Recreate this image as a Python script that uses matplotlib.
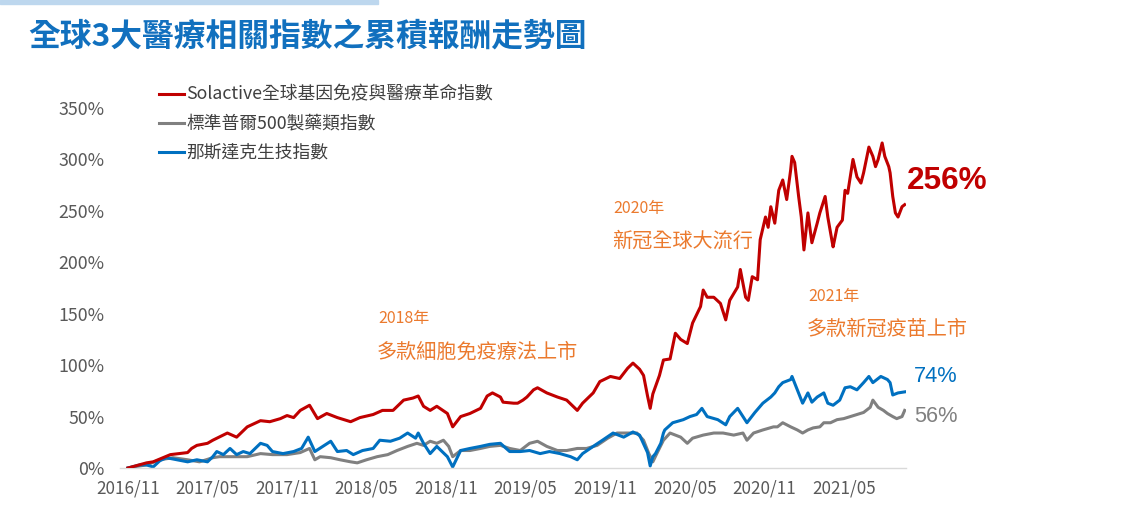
"""Cumulative return chart of three healthcare indices (2016/11 - 2021/09)."""

import matplotlib.pyplot as plt
from matplotlib.patches import Rectangle

plt.rcParams['font.family'] = ['Noto Sans CJK TC', 'DejaVu Sans']

# x values are months since 2016/11, y values are cumulative return in %
red_x = [0, 1.4, 1.9, 3.2, 4.5, 4.8, 5.2, 6.0, 6.4, 7.5, 8.2, 9.0, 10.0, 10.7, 11.5,
         12.0, 12.5, 13.0, 13.7, 14.3, 15.0, 15.8, 16.8, 17.5, 18.5, 19.2, 20.0, 20.8,
         21.5, 21.9, 22.3, 22.8, 23.3, 24.1, 24.5, 25.1, 25.8, 26.6, 27.1, 27.5, 28.1,
         28.3, 29.1, 29.4, 29.8, 30.1, 30.6, 30.9, 31.6, 32.4, 33.1, 33.9, 34.3, 35.1,
         35.6, 36.4, 37.1, 37.7, 38.1, 38.6, 38.9, 39.2, 39.4, 39.6, 40.1, 40.4, 40.9,
         41.3, 41.7, 42.2, 42.6, 43.2, 43.4, 43.7, 44.2, 44.7, 45.1, 45.4, 46.0, 46.2,
         46.6, 46.8, 47.1, 47.5, 47.7, 48.1, 48.3, 48.5, 48.8, 49.1, 49.4, 49.7, 50.0,
         50.1, 50.3, 50.6, 50.8, 51.0, 51.3, 51.6, 52.0, 52.2, 52.6, 52.8, 53.1, 53.2,
         53.5, 53.9, 54.1, 54.3, 54.7, 55.0, 55.3, 55.5, 55.9, 56.2, 56.4, 56.6, 56.9,
         57.1, 57.4, 57.5, 57.7, 57.9, 58.1, 58.4, 58.6]
red_y = [0, 5, 6, 13, 15, 19, 22, 24, 27, 34, 30, 40, 46, 45, 48,
         51, 49, 56, 61, 48, 53, 49, 45, 49, 52, 56, 56, 66,
         68, 70, 60, 56, 60, 53, 40, 50, 53, 58, 70, 73, 69,
         64, 63, 63, 66, 69, 76, 78, 73, 69, 66, 56, 63, 73,
         84, 89, 87, 97, 102, 96, 90, 70, 58, 72, 90, 105, 106,
         131, 125, 121, 141, 157, 173, 166, 166, 160, 144, 163, 176, 193,
         166, 163, 186, 183, 222, 244, 234, 254, 238, 270, 280, 261, 290,
         303, 297, 264, 244, 212, 248, 219, 238, 248, 264, 244, 222, 215,
         234, 241, 270, 267, 300, 283, 277, 287, 312, 303, 293, 300, 316,
         303, 293, 287, 264, 248, 244, 254, 256]

gray_x = [0, 0.4, 1.4, 2.4, 3.4, 4.5, 5.4, 6.4, 6.9, 7.9, 9.0, 10.0, 10.9, 12.0,
          13.0, 13.7, 14.1, 14.5, 15.3, 16.0, 16.8, 17.3, 18.0, 18.8, 19.6, 20.3,
          21.1, 21.8, 22.3, 22.8, 23.3, 23.8, 24.2, 24.5, 25.1, 25.8, 26.6, 27.3,
          28.1, 28.8, 29.6, 30.3, 30.9, 31.6, 32.4, 33.1, 33.9, 34.6, 35.4, 36.2,
          36.9, 37.7, 38.4, 38.9, 39.3, 39.6, 39.9, 40.4, 40.9, 41.7, 42.2, 42.6,
          43.4, 44.2, 44.9, 45.7, 46.4, 46.7, 47.2, 47.9, 48.7, 49.0, 49.4, 50.0,
          50.5, 50.9, 51.3, 51.7, 52.2, 52.5, 53.0, 53.5, 54.0, 54.5, 55.0, 55.5,
          56.0, 56.2, 56.6, 57.0, 57.3, 57.7, 58.0, 58.4, 58.6]
gray_y = [0, 1, 3, 8, 10, 8, 6, 10, 11, 11, 11, 14, 13, 13,
          15, 19, 8, 11, 10, 8, 6, 5, 8, 11, 13, 17,
          21, 24, 22, 26, 24, 27, 21, 11, 17, 17, 19, 21,
          22, 19, 17, 24, 26, 21, 17, 17, 19, 19, 22, 29,
          34, 34, 34, 27, 14, 6, 14, 27, 34, 30, 24, 29,
          32, 34, 34, 32, 34, 27, 34, 37, 40, 40, 44, 40,
          37, 34, 37, 39, 40, 44, 44, 47, 48, 50, 52, 54,
          59, 66, 59, 56, 53, 50, 48, 50, 56]

blue_x = [0, 0.9, 1.4, 1.9, 2.4, 2.9, 3.7, 4.5, 5.2, 6.0, 6.4, 6.7, 7.2, 7.7, 8.2,
          8.7, 9.2, 10.0, 10.5, 10.9, 11.7, 12.5, 13.1, 13.6, 14.1, 14.7, 15.3, 15.8,
          16.5, 17.0, 17.7, 18.5, 19.0, 19.8, 20.5, 21.1, 21.7, 21.9, 22.3, 22.8,
          23.3, 24.1, 24.5, 25.1, 25.8, 26.6, 27.3, 28.1, 28.8, 29.6, 30.3, 31.1,
          31.8, 32.6, 33.4, 33.9, 34.3, 35.1, 35.8, 36.6, 37.4, 38.1, 38.6, 39.2,
          39.4, 39.6, 39.8, 40.2, 40.4, 40.5, 41.1, 41.9, 42.4, 42.9, 43.3, 43.7,
          44.5, 45.1, 45.4, 46.0, 46.7, 47.3, 47.9, 48.5, 48.8, 49.1, 49.4, 50.0,
          50.1, 50.5, 50.9, 51.3, 51.6, 52.0, 52.5, 52.8, 53.2, 53.7, 54.1, 54.5,
          55.0, 55.5, 55.9, 56.2, 56.8, 57.3, 57.5, 57.7, 58.1, 58.6]
blue_y = [0, 3, 3, 1, 7, 10, 8, 6, 8, 6, 11, 16, 13, 19, 13,
          16, 14, 24, 22, 16, 14, 16, 19, 30, 16, 21, 26, 16,
          17, 13, 17, 19, 27, 26, 29, 34, 29, 34, 24, 14,
          21, 11, 1, 17, 19, 21, 23, 24, 16, 16, 17, 14,
          16, 14, 11, 8, 14, 21, 27, 34, 30, 35, 32, 15,
          2, 11, 14, 24, 34, 37, 44, 47, 50, 52, 58, 50,
          47, 42, 50, 58, 44, 54, 63, 69, 73, 79, 83, 86,
          89, 76, 63, 73, 64, 69, 73, 63, 61, 66, 78, 79,
          76, 83, 89, 83, 89, 86, 83, 71, 73, 74]

series_names = ["Solactive全球基因免疫與醫療革命指數", "標準普爾500製藥類指數", "那斯達克生技指數"]
series_colors = ["#C00000", "#808080", "#0070C0"]

tick_months = [0, 6, 12, 18, 24, 30, 36, 42, 48, 54]
tick_labels = ["2016/11", "2017/05", "2017/11", "2018/05", "2018/11",
               "2019/05", "2019/11", "2020/05", "2020/11", "2021/05"]
y_ticks = [0, 50, 100, 150, 200, 250, 300, 350]

W, H = 1148, 532
ORANGE = "#EB7A2E"
LATIN = ["Liberation Sans", "DejaVu Sans"]


def fx(px):
    return px / W


def fy(py):
    return 1 - py / H


fig = plt.figure(figsize=(W / 100, H / 100), dpi=100)
fig.patches.append(Rectangle((0, fy(4)), fx(378), 4 / H, transform=fig.transFigure,
                             color="#BDD7EE", zorder=0))
fig.text(fx(28), fy(37), "全球3大醫療相關指數之累積報酬走勢圖", fontsize=22.9,
         fontweight="bold", color="#1170BE", va="center", ha="left")

ax = fig.add_axes([fx(120), fy(468), fx(786), 360 / H])
ax.plot(red_x, red_y, color=series_colors[0], lw=2.2, label=series_names[0], zorder=3)
ax.plot(gray_x, gray_y, color=series_colors[1], lw=2.2, label=series_names[1], zorder=2)
ax.plot(blue_x, blue_y, color=series_colors[2], lw=2.2, label=series_names[2], zorder=2.5)

ax.set_xlim(-0.6, 58.7)
ax.set_ylim(0, 350)
ax.set_xticks(tick_months, tick_labels)
ax.set_yticks(y_ticks, [f"{v}%" for v in y_ticks])
ax.tick_params(axis="both", length=0, colors="#595959")
ax.tick_params(axis="y", pad=11, labelsize=12.8)
ax.tick_params(axis="x", pad=8, labelsize=12.3)
for side in ["top", "right", "left"]:
    ax.spines[side].set_visible(False)
ax.spines["bottom"].set_color("#D9D9D9")
ax.spines["bottom"].set_linewidth(1)

ax.legend(loc="upper left", bbox_to_anchor=(fx(150), fy(77)), bbox_transform=fig.transFigure,
          frameon=False, fontsize=12.8, handlelength=1.4, handletextpad=0.15,
          labelspacing=0.62, borderpad=0, labelcolor="#404040")

# annotations
fig.text(fx(378), fy(319), "2018年", fontsize=11.5, color=ORANGE, va="center")
fig.text(fx(377), fy(352), "多款細胞免疫療法上市", fontsize=14.5, color=ORANGE, va="center")
fig.text(fx(613), fy(208), "2020年", fontsize=11.5, color=ORANGE, va="center")
fig.text(fx(612), fy(241), "新冠全球大流行", fontsize=14.5, color=ORANGE, va="center")
fig.text(fx(808), fy(297), "2021年", fontsize=11.5, color=ORANGE, va="center")
fig.text(fx(807), fy(329), "多款新冠疫苗上市", fontsize=14.5, color=ORANGE, va="center")

fig.text(fx(907), fy(181), f"{red_y[-1]}%", fontsize=22.7, fontweight="bold",
         color=series_colors[0], va="center", family=LATIN)
fig.text(fx(914), fy(376), f"{blue_y[-1]}%", fontsize=15.7, color=series_colors[2],
         va="center", family=LATIN)
fig.text(fx(914), fy(416), f"{gray_y[-1]}%", fontsize=15.7, color=series_colors[1],
         va="center", family=LATIN)

fig.savefig("out.png", dpi=100)
